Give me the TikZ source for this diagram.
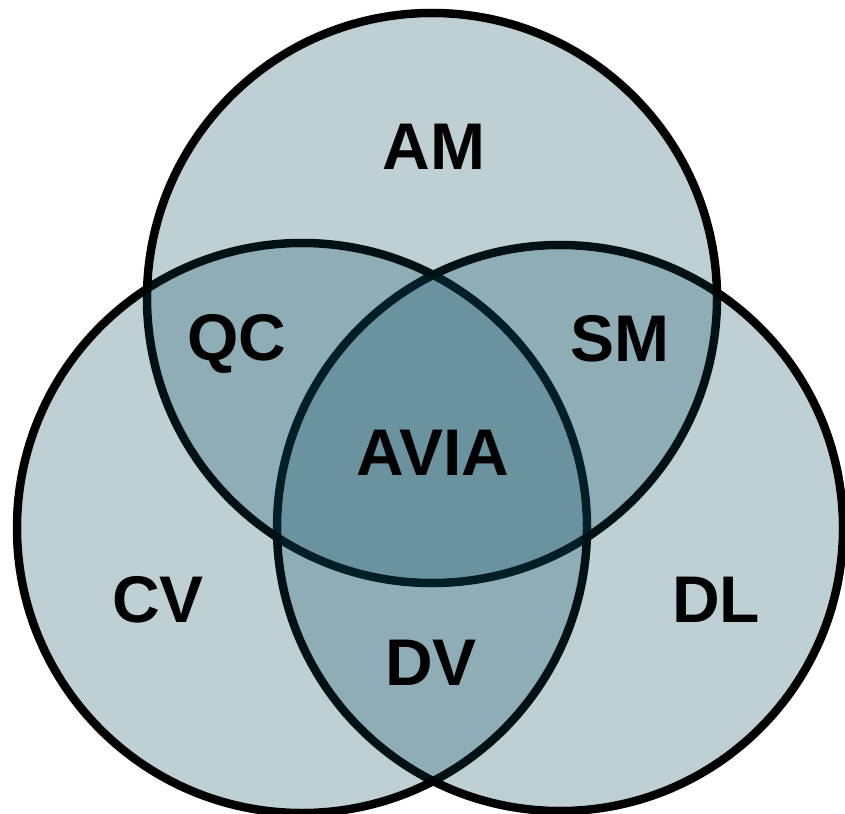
\documentclass[tikz,border=0pt]{standalone}
\usepackage{fontspec}
\setmainfont{Liberation Sans}
\definecolor{vennfill}{RGB}{0,69,89}
\begin{document}
\begin{tikzpicture}[x=1pt,y=-1pt,
  ring/.style={draw=black,line width=8.5pt},
  disc/.style={fill=vennfill,fill opacity=0.25},
  lab/.style={font=\fontsize{66}{70}\selectfont\bfseries,anchor=base,inner sep=0pt}]
\useasboundingbox (0,0) rectangle (845,813);
\coordinate (T) at (432,298);
\coordinate (L) at (302,528);
\coordinate (R) at (560,528);
\draw[ring] (T) circle[radius=285];
\draw[ring] (L) circle[radius=285];
\draw[ring] (R) circle[radius=283];
\fill[disc] (T) circle[radius=280.75];
\fill[disc] (L) circle[radius=280.75];
\fill[disc] (R) circle[radius=278.75];
\node[lab] (am) at (434,170) {AM};
\node[lab] (qc) at (237,360) {QC};
\node[lab] (sm) at (620,361) {SM};
\node[lab] (avia) at (433,475) {AVIA};
\node[lab] (cv) at (158,622) {CV};
\node[lab] (dl) at (716,622) {DL};
\node[lab] (dv) at (431,685) {DV};
\end{tikzpicture}
\end{document}
